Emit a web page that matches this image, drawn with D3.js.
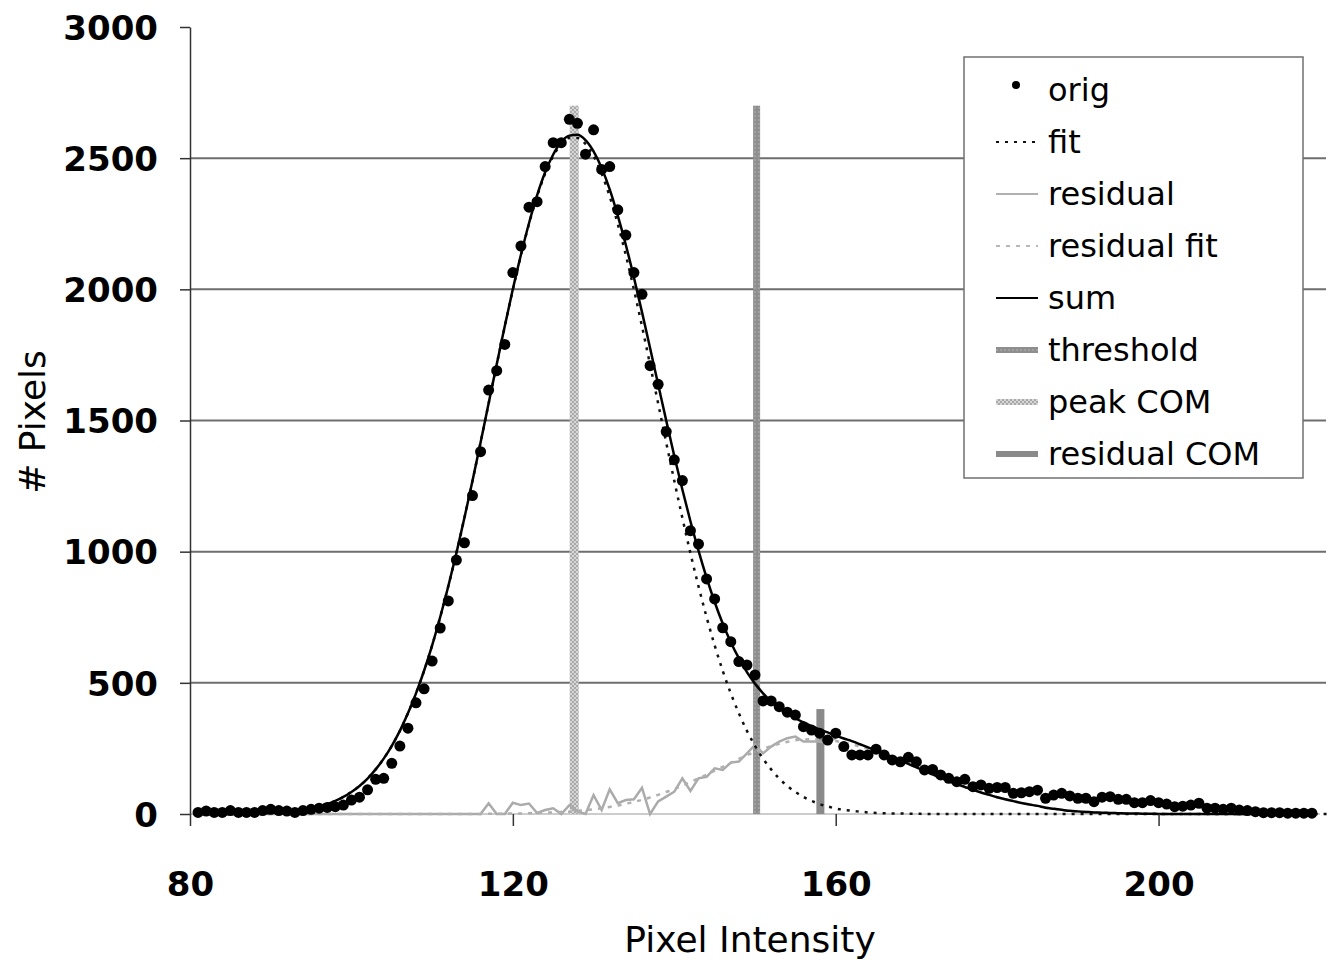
<!DOCTYPE html>
<html>
<head>
<meta charset="utf-8">
<script src="https://cdn.jsdelivr.net/npm/d3@7"></script>
<style>
  body { margin: 0; background: #fff; }
  svg text { font-family: "Comic Sans MS", "DejaVu Sans", sans-serif; fill: #000; }
</style>
</head>
<body>
<div id="chart"></div>
<script>
// intensity values 81..219
var startX = 81;

var origVals = [6, 11, 6, 6, 13, 6, 6, 6, 13, 18, 13, 11, 6, 13, 18, 22, 25, 28, 34, 53,
  64, 92, 132, 136, 193, 259, 327, 424, 477, 583, 709, 812, 968, 1034, 1214, 1381, 1616,
  1690, 1790, 2064, 2165, 2313, 2334, 2468, 2559, 2559, 2648, 2633, 2515, 2608, 2457, 2468,
  2303, 2207, 2064, 1981, 1709, 1638, 1458, 1350, 1271, 1080, 1029, 896, 820, 710, 657,
  581, 568, 530, 431, 431, 409, 388, 377, 333, 320, 308, 282, 308, 257, 225, 225, 225, 247,
  225, 206, 199, 216, 199, 168, 170, 149, 136, 123, 132, 104, 111, 98, 101, 101, 79, 81, 85,
  91, 60, 72, 79, 69, 60, 60, 47, 64, 66, 56, 56, 43, 43, 51, 43, 38, 28, 30, 34, 41, 22,
  22, 18, 22, 15, 13, 9, 5, 5, 5, 3, 3, 3, 3];

var fitVals = [0, 0, 0, 0, 0, 0, 2, 2, 3, 4, 6, 9, 12, 16, 21, 29, 38, 50, 65, 84,
  107, 135, 170, 211, 260, 317, 384, 460, 546, 643, 751, 868, 994, 1129, 1270, 1416, 1565,
  1713, 1859, 1999, 2130, 2249, 2354, 2441, 2508, 2554, 2577, 2577, 2554, 2508, 2441, 2354,
  2249, 2130, 1999, 1859, 1713, 1565, 1416, 1270, 1129, 994, 868, 751, 643, 546, 460,
  384, 317, 260, 211, 170, 135, 107, 84, 65, 50, 38, 29, 21, 16, 12, 9, 6, 4,
  3, 2, 2, 1, 1, 0, 0, 0, 0, 0, 0, 0, 0, 0, 0, 0, 0, 0, 0,
  0, 0, 0, 0, 0, 0, 0, 0, 0, 0, 0, 0, 0, 0, 0, 0, 0, 0, 0, 0, 0, 0, 0, 0, 0, 0,
  0, 0, 0, 0, 0, 0, 0, 0, 0, 0, 0, 0, 0];

// residual only drawn 81..160
var residVals = [0, 0, 0, 0, 0, 0, 0, 0, 0, 0, 0, 0, 0, 0, 0, 0, 0, 0, 0, 0,
  0, 0, 0, 0, 0, 0, 0, 0, 0, 0, 0, 0, 0, 0, 0, 0, 41,
  0, 0, 43, 34, 40, 4, 15, 22, 0, 34, 10, 0, 72, 15, 94,
  41, 53, 56, 100, 0, 48, 66, 85, 136, 88, 136, 142, 174, 168, 196,
  200, 231, 263, 231, 257, 276, 289, 295, 276, 276, 276, 270, 290];

var residFitVals = [0, 0, 0, 0, 0, 0, 0, 0, 0, 0, 0, 0, 0, 0, 0, 0, 0, 0, 0, 0,
  0, 0, 0, 0, 0, 0, 0, 0, 0, 0, 0, 0, 0, 0, 0, 0, 1,
  1, 1, 2, 2, 3, 4, 5, 6, 8, 9, 12, 15, 18, 22, 27,
  32, 39, 46, 54, 63, 73, 84, 95, 108, 122, 136, 150, 165, 180, 195,
  210, 224, 237, 249, 259, 268, 275, 281, 284, 285, 284, 282, 278, 272, 266, 257, 248, 238,
  227, 215, 202, 190, 177, 164, 151, 138, 126, 114, 103, 92, 82, 73, 64, 56, 49, 42, 36,
  31, 24, 20, 16, 12, 10, 8, 6, 5, 4, 3, 2, 2, 1, 1, 0, 0, 0, 0, 0, 0, 0, 0, 0, 0,
  0, 0, 0, 0, 0, 0, 0, 0, 0, 0];

var sumVals = [0, 0, 0, 0, 0, 0, 2, 2, 3, 4, 6, 9, 12, 16, 21, 29, 38, 50, 65, 84,
  107, 135, 170, 211, 260, 317, 384, 460, 546, 643, 751, 868, 994, 1129, 1270, 1416, 1566,
  1714, 1860, 2001, 2132, 2252, 2358, 2446, 2514, 2562, 2586, 2589, 2569, 2526, 2463, 2381,
  2281, 2169, 2045, 1913, 1776, 1638, 1500, 1365, 1237, 1116, 1004, 901, 808, 726, 655,
  594, 541, 497, 460, 429, 403, 382, 365, 349, 335, 322, 311, 299, 288, 278, 266, 254, 242,
  230, 217, 204, 191, 178, 164, 151, 138, 126, 114, 103, 92, 82, 73, 64, 56, 49, 42, 36,
  31, 24, 20, 16, 12, 10, 8, 6, 5, 4, 3, 2, 2, 1, 1, 0, 0, 0, 0, 0, 0, 0, 0, 0, 0,
  0, 0, 0, 0, 0, 0, 0, 0, 0, 0];

// vertical markers: position and top
var threshold = {x: 150.2, top: 2700};
var peakCOM = {x: 127.6, top: 2700};
var residualCOM = {x: 158.1, top: 400};

var xTicks = [80, 120, 160, 200];
var yTicks = [0, 500, 1000, 1500, 2000, 2500, 3000];
var legendLabels = ["orig", "fit", "residual", "residual fit", "sum", "threshold", "peak COM", "residual COM"];

var W = 1331, H = 963;
var margin = {top: 27, right: 11, bottom: 149, left: 190};
var width = W - margin.left - margin.right,
    height = H - margin.top - margin.bottom;

var svg = d3.select("#chart").append("svg")
    .attr("width", W)
    .attr("height", H);

var defs = svg.append("defs");
var pk = defs.append("pattern").attr("id", "peakPat")
    .attr("width", 4).attr("height", 4).attr("patternUnits", "userSpaceOnUse");
pk.append("rect").attr("width", 4).attr("height", 4).attr("fill", "#d6d6d6");
pk.append("rect").attr("width", 2).attr("height", 2).attr("fill", "#a9a9a9");
pk.append("rect").attr("x", 2).attr("y", 2).attr("width", 2).attr("height", 2).attr("fill", "#a9a9a9");

var th = defs.append("pattern").attr("id", "threshPat")
    .attr("width", 4).attr("height", 4).attr("patternUnits", "userSpaceOnUse");
th.append("rect").attr("width", 4).attr("height", 4).attr("fill", "#8e8e8e");
th.append("rect").attr("width", 2).attr("height", 2).attr("fill", "#a0a0a0");

var g = svg.append("g")
    .attr("transform", "translate(" + margin.left + "," + margin.top + ")");

var x = d3.scaleLinear().domain([80, 220]).range([0, width]);
var y = d3.scaleLinear().domain([0, 3000]).range([height, 0]);

function series(vals) {
    return vals.map(function (v, i) { return {x: startX + i, y: v}; });
}

// gridlines
g.selectAll(".grid")
    .data(yTicks.filter(function (d) { return d > 0 && d < 3000; }))
    .enter().append("line")
    .attr("class", "grid")
    .attr("x1", 0).attr("x2", width + 6)
    .attr("y1", function (d) { return y(d); })
    .attr("y2", function (d) { return y(d); })
    .attr("stroke", "#6e6e6e")
    .attr("stroke-width", 2);

// x axis baseline
g.append("line")
    .attr("x1", 0).attr("x2", width)
    .attr("y1", y(0)).attr("y2", y(0))
    .attr("stroke", "#9a9a9a").attr("stroke-width", 1);

// vertical bars
var bars = [
    {d: peakCOM, w: 9, fill: "url(#peakPat)"},
    {d: threshold, w: 7, fill: "url(#threshPat)"},
    {d: residualCOM, w: 8, fill: "#8a8a8a"}
];
g.selectAll(".vbar")
    .data(bars)
    .enter().append("rect")
    .attr("class", "vbar")
    .attr("x", function (b) { return x(b.d.x) - b.w / 2; })
    .attr("width", function (b) { return b.w; })
    .attr("y", function (b) { return y(b.d.top); })
    .attr("height", function (b) { return y(0) - y(b.d.top); })
    .attr("fill", function (b) { return b.fill; });

var line = d3.line()
    .x(function (d) { return x(d.x); })
    .y(function (d) { return y(d.y); });
var smooth = d3.line()
    .curve(d3.curveMonotoneX)
    .x(function (d) { return x(d.x); })
    .y(function (d) { return y(d.y); });

// residual
g.append("path")
    .datum(series(residVals))
    .attr("d", line)
    .attr("fill", "none")
    .attr("stroke", "#ababab")
    .attr("stroke-width", 2.5);

// residual fit
g.append("path")
    .datum(series(residFitVals))
    .attr("d", smooth)
    .attr("fill", "none")
    .attr("stroke", "#b0b0b0")
    .attr("stroke-width", 2.5)
    .attr("stroke-dasharray", "4,6");

// fit
g.append("path")
    .datum(series(fitVals))
    .attr("d", smooth)
    .attr("fill", "none")
    .attr("stroke", "#111")
    .attr("stroke-width", 2.5)
    .attr("stroke-dasharray", "3,6");

// sum
g.append("path")
    .datum(series(sumVals))
    .attr("d", smooth)
    .attr("fill", "none")
    .attr("stroke", "#000")
    .attr("stroke-width", 2.5);

// orig points
g.selectAll(".dot")
    .data(series(origVals))
    .enter().append("circle")
    .attr("class", "dot")
    .attr("cx", function (d) { return x(d.x); })
    .attr("cy", function (d) { return y(d.y); })
    .attr("r", 5.5)
    .attr("fill", "#000");

// y axis
var yAxis = g.append("g")
    .call(d3.axisLeft(y).tickValues(yTicks).tickFormat(d3.format("d"))
        .tickSize(10).tickPadding(22).tickSizeOuter(0));
yAxis.select(".domain").attr("stroke", "#333").attr("stroke-width", 1.5);
yAxis.selectAll(".tick line").attr("stroke", "#333").attr("stroke-width", 1.5);
yAxis.selectAll("text")
    .style("font-size", "34px")
    .style("font-weight", "bold")
    .attr("dy", "0.36em");

// x axis
var xAxis = g.append("g")
    .attr("transform", "translate(0," + height + ")")
    .call(d3.axisBottom(x).tickValues(xTicks).tickFormat(d3.format("d"))
        .tickSize(12).tickSizeOuter(0));
xAxis.select(".domain").remove();
xAxis.selectAll(".tick line").attr("stroke", "#333").attr("stroke-width", 1.5);
xAxis.selectAll("text")
    .style("font-size", "34px")
    .style("font-weight", "bold")
    .attr("y", 82)
    .attr("dy", 0);

// axis titles
svg.append("text")
    .attr("x", 750).attr("y", 952)
    .attr("text-anchor", "middle")
    .style("font-size", "36px")
    .text("Pixel Intensity");

svg.append("text")
    .attr("transform", "translate(45,422) rotate(-90)")
    .attr("text-anchor", "middle")
    .style("font-size", "36px")
    .text("# Pixels");

// legend
var lg = svg.append("g").attr("transform", "translate(964,57)");
lg.append("rect")
    .attr("width", 339).attr("height", 421)
    .attr("fill", "#fff")
    .attr("stroke", "#707070")
    .attr("stroke-width", 1.5);

var rowY = function (i) { return 33 + i * 52; };
var sym = [
    {type: "dot"},
    {stroke: "#111", w: 2, dash: "3,6"},
    {stroke: "#b0b0b0", w: 2},
    {stroke: "#b8b8b8", w: 2, dash: "4,6"},
    {stroke: "#000", w: 2},
    {stroke: "url(#threshPat)", w: 6},
    {stroke: "url(#peakPat)", w: 6},
    {stroke: "#8a8a8a", w: 6}
];

legendLabels.forEach(function (lab, i) {
    var s = sym[i];
    if (s.type === "dot") {
        lg.append("circle").attr("cx", 52).attr("cy", rowY(i) - 5).attr("r", 4).attr("fill", "#000");
    } else {
        lg.append("line")
            .attr("x1", 32).attr("x2", 74)
            .attr("y1", rowY(i)).attr("y2", rowY(i))
            .attr("stroke", s.stroke)
            .attr("stroke-width", s.w)
            .attr("stroke-dasharray", s.dash || null);
    }
    lg.append("text")
        .attr("x", 84).attr("y", rowY(i))
        .attr("dy", "0.35em")
        .style("font-size", "32px")
        .text(lab);
});
</script>
</body>
</html>
